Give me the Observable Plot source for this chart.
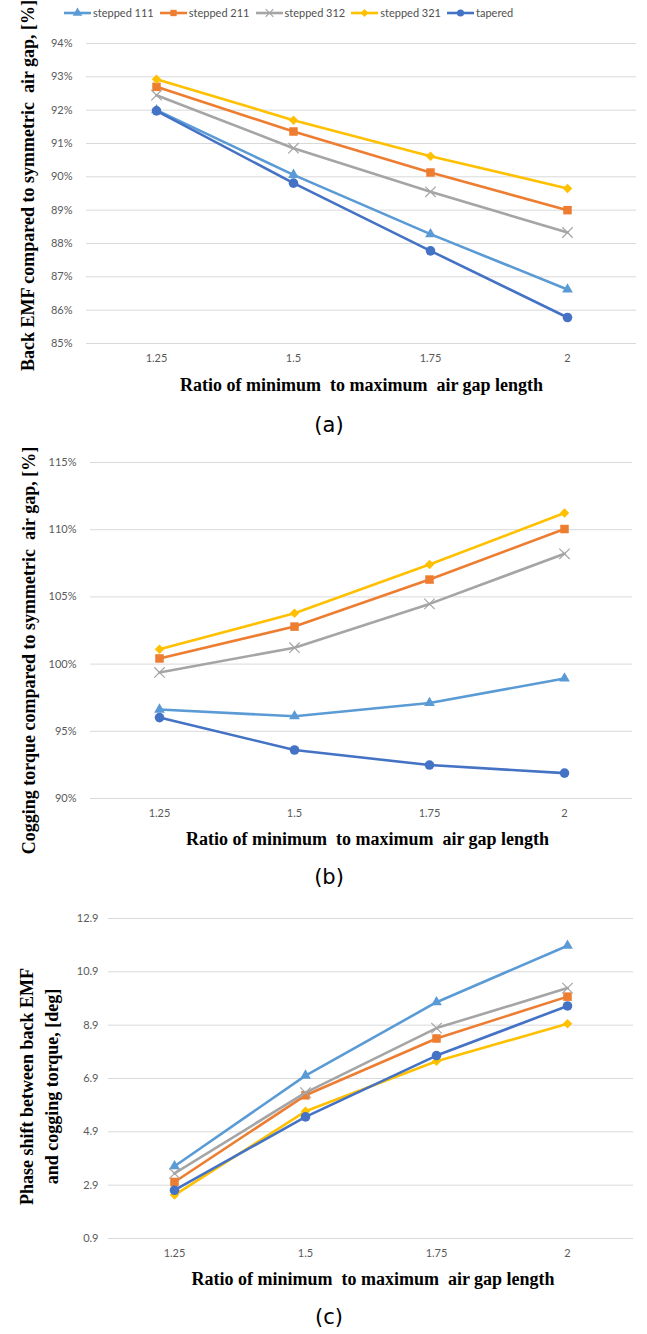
<!DOCTYPE html>
<html>
<head>
<meta charset="utf-8">
<script src="https://cdn.jsdelivr.net/npm/d3@7"></script>
<script src="https://cdn.jsdelivr.net/npm/@observablehq/plot@0.6"></script>
<style>
  body { margin: 0; background: #fff; }
  #root { position: relative; width: 647px; height: 1334px; overflow: hidden; background: #fff; }
  .panel { position: absolute; left: 0; }
  .panel svg { overflow: visible; }
  .cap { position: absolute; font-family: "DejaVu Sans", sans-serif; font-size: 21px; color: #000; transform: translate(-50%, -50%); white-space: nowrap; }
  #legend { position: absolute; top: 6px; left: 64px; display: flex; align-items: center; font-family: Lato, sans-serif; font-size: 11px; color: #505050; }
  #legend .item { display: flex; align-items: center; margin-right: 6px; }
  #legend svg { margin-right: 2px; }
</style>
</head>
<body>
<div id="root">
  <div id="legend"></div>
  <div class="panel" id="pa" style="top:0px"></div>
  <div class="cap" style="left:329px; top:425px">(a)</div>
  <div class="panel" id="pb" style="top:400px"></div>
  <div class="cap" style="left:329px; top:877px">(b)</div>
  <div class="panel" id="pc" style="top:890px"></div>
  <div class="cap" style="left:329px; top:1317px">(c)</div>
</div>
<script>
// ---- data ----
const categories = ["1.25", "1.5", "1.75", "2"];
const seriesNames = ["stepped 111", "stepped 211", "stepped 312", "stepped 321", "tapered"];
const seriesColors = ["#5B9BD5", "#ED7D31", "#A5A5A5", "#FFC000", "#4472C4"];
const seriesSymbols = ["triangle", "square", "times", "diamond2", "circle"];

// (a) Back EMF compared to symmetric air gap [%]
const backEmf111 = [92.0, 90.06, 88.28, 86.62];
const backEmf211 = [92.7, 91.36, 90.13, 89.0];
const backEmf312 = [92.45, 90.86, 89.55, 88.33];
const backEmf321 = [92.93, 91.7, 90.62, 89.65];
const backEmfTapered = [91.98, 89.81, 87.78, 85.78];
const backEmfTicks = [85, 86, 87, 88, 89, 90, 91, 92, 93, 94];

// (b) Cogging torque compared to symmetric air gap [%]
const cogging111 = [96.62, 96.12, 97.11, 98.93];
const cogging211 = [100.42, 102.79, 106.29, 110.05];
const cogging312 = [99.38, 101.22, 104.48, 108.21];
const cogging321 = [101.1, 103.78, 107.41, 111.24];
const coggingTapered = [96.02, 93.61, 92.49, 91.89];
const coggingTicks = [90, 95, 100, 105, 110, 115];

// (c) Phase shift between back EMF and cogging torque [deg]
const phase111 = [3.61, 7.01, 9.76, 11.88];
const phase211 = [3.02, 6.27, 8.4, 9.97];
const phase312 = [3.34, 6.37, 8.79, 10.29];
const phase321 = [2.53, 5.67, 7.55, 8.95];
const phaseTapered = [2.71, 5.46, 7.76, 9.62];
const phaseTicks = [0.9, 2.9, 4.9, 6.9, 8.9, 10.9, 12.9];

const xTitle = "Ratio of minimum  to maximum  air gap length";
const yTitleA = "Back EMF compared to symmetric  air gap, [%]";
const yTitleB = "Cogging torque compared to symmetric  air gap, [%]";
const yTitleC = "Phase shift between back EMF\nand cogging torque, [deg]";

// ---- helpers ----
function toRows(seriesValues) {
  const rows = [];
  seriesValues.forEach((vals, i) => {
    vals.forEach((v, j) => rows.push({series: seriesNames[i], x: categories[j], y: v}));
  });
  return rows;
}

function makeChart(o) {
  const rows = toRows(o.series);
  const marks = [
    Plot.gridY(o.ticks, {stroke: "#d9d9d9", strokeOpacity: 1, strokeWidth: 1}),
    Plot.axisY(o.ticks, {tickSize: 0, tickPadding: o.tickPad, tickFormat: o.fmt, color: "#595959", fontSize: 11, fontFamily: "Lato", label: null}),
    Plot.axisX({tickSize: 0, tickPadding: 11, color: "#595959", fontSize: 11, fontFamily: "Lato", label: null})
  ];
  seriesNames.forEach((name, i) => {
    const d = rows.filter(r => r.series === name);
    const col = seriesColors[i];
    const sym = seriesSymbols[i];
    marks.push(Plot.line(d, {x: "x", y: "y", stroke: col, strokeWidth: 2.6}));
    const rr = sym === "triangle" ? 4 : (sym === "diamond2" ? 4.3 : 4.8);
    if (sym === "times") {
      marks.push(Plot.dot(d, {x: "x", y: "y", symbol: () => sym, r: rr, stroke: col, strokeWidth: 1.2, fill: "none"}));
    } else {
      marks.push(Plot.dot(d, {x: "x", y: "y", symbol: () => sym, r: rr, fill: col, stroke: "none"}));
    }
  });
  marks.push(Plot.text([o.yTitle], {text: d => d, frameAnchor: "left", rotate: -90, dx: o.yDx, dy: o.yDy,
    textAnchor: "middle", lineAnchor: "middle",
    fontFamily: "Liberation Serif", fontWeight: "bold", fontSize: 18, fill: "black", lineHeight: 1.4}));
  marks.push(Plot.text([xTitle], {text: d => d, frameAnchor: "bottom", dx: o.xDx, dy: o.xDy,
    textAnchor: "middle", lineAnchor: "middle",
    fontFamily: "Liberation Serif", fontWeight: "bold", fontSize: 18, fill: "black"}));
  return Plot.plot({
    width: 647,
    height: o.height,
    marginTop: o.mt, marginBottom: o.mb, marginLeft: o.ml, marginRight: o.mr,
    style: {background: "transparent", fontFamily: "Lato", overflow: "visible"},
    x: {type: "point", domain: categories, padding: 0.5},
    y: {domain: o.domain},
    symbol: {type: "identity"},
    marks
  });
}

document.getElementById("pa").append(makeChart({
  series: [backEmf111, backEmf211, backEmf312, backEmf321, backEmfTapered],
  ticks: backEmfTicks, fmt: d => d + "%", domain: [85, 94],
  height: 400, mt: 43, mb: 57, ml: 86, mr: 11, tickPad: 14,
  yTitle: yTitleA, yDx: -61, yDy: -8, xDx: 0, xDy: 42
}));
document.getElementById("pb").append(makeChart({
  series: [cogging111, cogging211, cogging312, cogging321, coggingTapered],
  ticks: coggingTicks, fmt: d => d + "%", domain: [90, 115],
  height: 460, mt: 62, mb: 62, ml: 90, mr: 15, tickPad: 14,
  yTitle: yTitleB, yDx: -64, yDy: 20, xDx: 6, xDy: 41
}));
document.getElementById("pc").append(makeChart({
  series: [phase111, phase211, phase312, phase321, phaseTapered],
  ticks: phaseTicks, fmt: d => d.toFixed(1), domain: [0.9, 12.9],
  height: 410, mt: 28, mb: 62, ml: 108, mr: 14, tickPad: 10,
  yTitle: yTitleC, yDx: -71, yDy: 8, xDx: 2, xDy: 41
}));

// ---- legend ----
const legend = document.getElementById("legend");
const symMap = {triangle: d3.symbolTriangle, square: d3.symbolSquare, times: d3.symbolTimes, diamond2: d3.symbolDiamond2, circle: d3.symbolCircle};
seriesNames.forEach((name, i) => {
  const item = document.createElement("div");
  item.className = "item";
  const svg = d3.create("svg").attr("width", 27).attr("height", 12);
  svg.append("line").attr("x1", 0).attr("x2", 27).attr("y1", 6).attr("y2", 6)
    .attr("stroke", seriesColors[i]).attr("stroke-width", 2.6);
  const p = svg.append("path").attr("transform", "translate(13.5,6)")
    .attr("d", d3.symbol(symMap[seriesSymbols[i]], 40)());
  if (seriesSymbols[i] === "times") p.attr("fill", "none").attr("stroke", seriesColors[i]).attr("stroke-width", 1.2);
  else p.attr("fill", seriesColors[i]);
  item.append(svg.node());
  const t = document.createElement("span");
  t.textContent = name;
  item.append(t);
  legend.append(item);
});
</script>
</body>
</html>
